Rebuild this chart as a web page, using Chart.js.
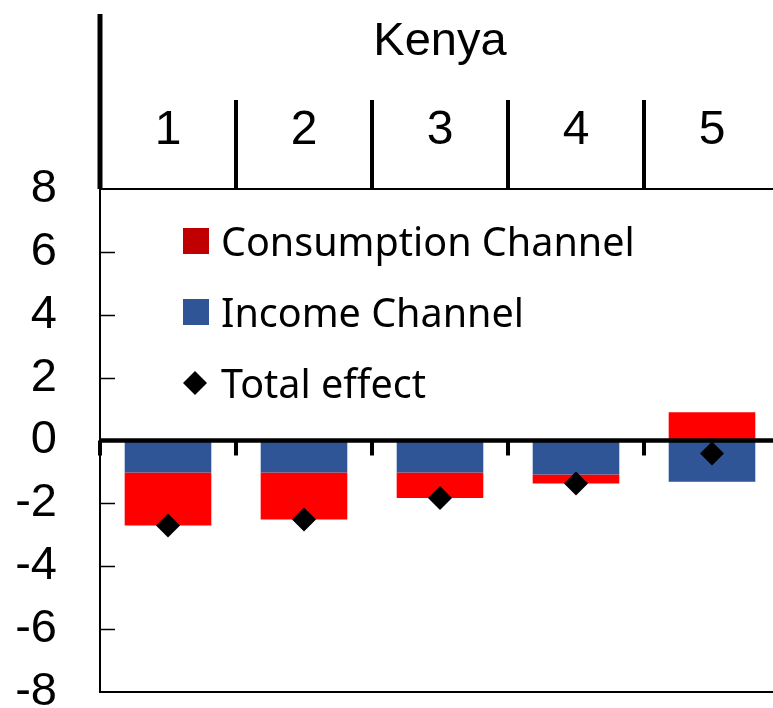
<!DOCTYPE html>
<html>
<head>
<meta charset="utf-8">
<script src="https://cdn.jsdelivr.net/npm/chart.js"></script>
<style>
  html, body { margin: 0; padding: 0; background: #fff; overflow: hidden; }
  #wrap { width: 773px; height: 708px; overflow: hidden; }
</style>
</head>
<body>
<div id="wrap"><canvas id="chart" width="800" height="708"></canvas></div>
<script>
// === Données ===
const pays = 'Kenya';
const categories = ['1', '2', '3', '4', '5'];
const incomeChannel = [-1.02, -1.02, -1.02, -1.08, -1.31];
const consumptionChannel = [-1.68, -1.49, -0.81, -0.29, 0.90];
const totalEffect = [-2.70, -2.51, -1.83, -1.37, -0.41];
const yTicks = [-8, -6, -4, -2, 0, 2, 4, 6, 8];

const legendItems = [
  { label: 'Consumption Channel', color: '#C00000', type: 'square' },
  { label: 'Income Channel', color: '#2F5597', type: 'square' },
  { label: 'Total effect', color: '#000000', type: 'diamond' }
];

Chart.defaults.font.family = '"Liberation Sans", Arial, sans-serif';
Chart.defaults.color = '#000';

// === Décor : axe zéro, petites graduations, légende ===
const decor = {
  id: 'decor',
  afterDatasetDraw(chart, args) {
    if (args.index !== 1) return;
    const ctx = chart.ctx;
    const x = chart.scales.x;
    const y = chart.scales.y;
    const y0 = y.getPixelForValue(0);
    ctx.save();
    ctx.strokeStyle = '#000';
    ctx.lineWidth = 4.5;
    ctx.beginPath();
    ctx.moveTo(chart.chartArea.left, y0);
    ctx.lineTo(chart.width, y0);
    ctx.stroke();
    // graduations sous l'axe zéro, entre les catégories
    ctx.lineWidth = 4;
    for (let i = 0; i <= categories.length; i++) {
      const px = x.left + i * (x.width / categories.length);
      ctx.beginPath();
      ctx.moveTo(px, y0);
      ctx.lineTo(px, y0 + 15);
      ctx.stroke();
    }
    ctx.restore();
  },
  afterDraw(chart) {
    const ctx = chart.ctx;
    const area = chart.chartArea;
    const y = chart.scales.y;
    ctx.save();
    ctx.strokeStyle = '#000';

    // graduations vers l'intérieur
    ctx.lineWidth = 1.5;
    yTicks.forEach(v => {
      if (v === 0 || v === yTicks[0] || v === yTicks[yTicks.length - 1]) return;
      const py = Math.round(y.getPixelForValue(v)) + 0.5;
      ctx.beginPath();
      ctx.moveTo(area.left, py);
      ctx.lineTo(area.left + 15, py);
      ctx.stroke();
    });

    // bord du bas
    ctx.lineWidth = 2;
    ctx.beginPath();
    ctx.moveTo(area.left - 1, area.bottom);
    ctx.lineTo(chart.width, area.bottom);
    ctx.stroke();

    // trait gauche de l'en-tête
    ctx.lineWidth = 5;
    ctx.beginPath();
    ctx.moveTo(area.left, 14);
    ctx.lineTo(area.left, area.top);
    ctx.stroke();

    // légende
    const lx = 183, tx = 221;
    const rows = [256, 327, 398];
    ctx.font = '39.5px "Noto Sans", "Open Sans", sans-serif';
    ctx.textBaseline = 'alphabetic';
    ctx.textAlign = 'left';
    legendItems.forEach((it, i) => {
      const cy = rows[i] - 15;
      ctx.fillStyle = it.color;
      if (it.type === 'square') {
        ctx.fillRect(lx, cy - 13, 26, 26);
      } else {
        ctx.beginPath();
        ctx.moveTo(lx, cy);
        ctx.lineTo(lx + 12, cy - 12);
        ctx.lineTo(lx + 24, cy);
        ctx.lineTo(lx + 12, cy + 12);
        ctx.closePath();
        ctx.fill();
      }
      ctx.fillStyle = '#000';
      ctx.fillText(it.label, tx, rows[i]);
    });
    ctx.restore();
  }
};

new Chart(document.getElementById('chart'), {
  data: {
    labels: categories,
    datasets: [
      {
        type: 'line',
        label: 'Total effect',
        data: totalEffect,
        stack: 'total',
        showLine: false,
        pointStyle: 'rectRot',
        pointRadius: 12,
        pointBorderWidth: 0,
        pointBackgroundColor: '#000',
        borderColor: '#000'
      },
      {
        type: 'bar',
        label: 'Income Channel',
        data: incomeChannel,
        stack: 'canaux',
        backgroundColor: '#2F5597',
        borderWidth: 0,
        categoryPercentage: 1,
        barPercentage: 0.637
      },
      {
        type: 'bar',
        label: 'Consumption Channel',
        data: consumptionChannel,
        stack: 'canaux',
        backgroundColor: '#FF0000',
        borderWidth: 0,
        categoryPercentage: 1,
        barPercentage: 0.637
      }
    ]
  },
  options: {
    responsive: false,
    devicePixelRatio: 1,
    animation: false,
    layout: { padding: { left: 0, top: 0, right: 20, bottom: 16 } },
    plugins: { legend: { display: false }, tooltip: { enabled: false } },
    scales: {
      x: {
        position: 'top',
        stacked: true,
        afterFit: s => { s.height = 189; s.paddingLeft = 0; s.paddingRight = 0; },
        grid: {
          offset: true,
          drawOnChartArea: false,
          drawTicks: true,
          tickLength: 89,
          lineWidth: 4,
          color: '#000'
        },
        border: { display: true, color: '#000', width: 2 },
        ticks: { font: { size: 48 }, color: '#000', padding: -60, maxRotation: 0, autoSkip: false },
        title: { display: true, text: pays, font: { size: 47 }, color: '#000', padding: { top: 14, bottom: 0 } }
      },
      y: {
        stacked: true,
        min: -8,
        max: 8,
        afterBuildTicks: s => { s.ticks = yTicks.map(v => ({ value: v })); },
        afterFit: s => { s.width = 100; s.paddingTop = 0; s.paddingBottom = 0; },
        grid: { display: false, drawTicks: false },
        border: { display: true, color: '#000', width: 2 },
        ticks: { font: { size: 47 }, color: '#000', padding: 43, autoSkip: false }
      }
    }
  },
  plugins: [decor]
});
</script>
</body>
</html>
